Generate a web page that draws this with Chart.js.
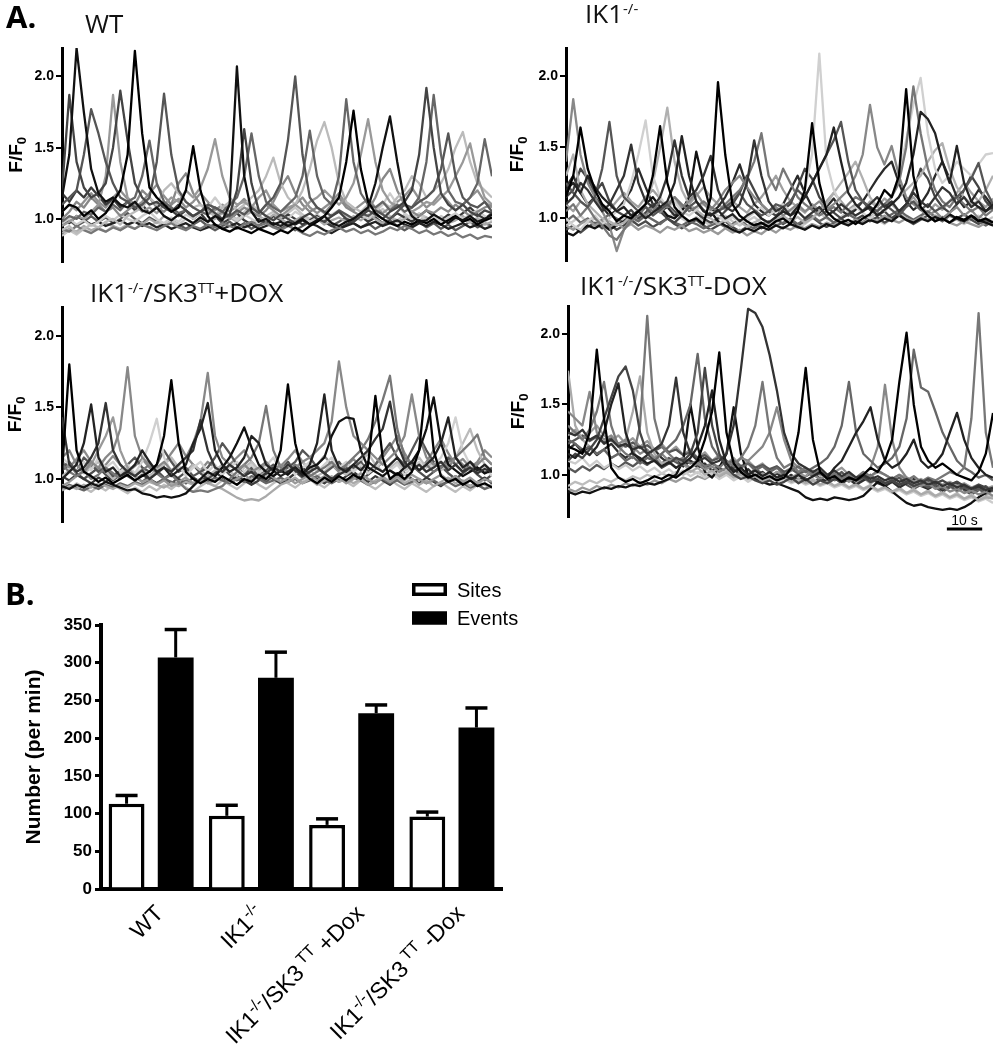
<!DOCTYPE html>
<html><head><meta charset="utf-8">
<script src="https://cdn.jsdelivr.net/npm/chart.js@4.4.1/dist/chart.umd.min.js"></script>
<style>
html,body{margin:0;padding:0;background:#fff;}
#page{position:relative;width:993px;height:1050px;overflow:hidden;background:#fff;}
canvas{position:absolute;}
</style></head><body>
<div id="page">
<canvas id="cTL" style="left:0;top:0" width="496" height="272"></canvas>
<canvas id="cTR" style="left:496px;top:0" width="497" height="272"></canvas>
<canvas id="cBL" style="left:0;top:272px" width="496" height="262"></canvas>
<canvas id="cBR" style="left:496px;top:272px" width="497" height="268"></canvas>
<canvas id="cBar" style="left:0;top:560px" width="560" height="490"></canvas>
</div>
<script>
// ---------- DATA ----------
const samples = [0,1,2,3,4,5,6,7,8,9,10,11,12,13,14,15,16,17,18,19,20,21,22,23,24,25,26,27,28,29,30,31,32,33,34,35,36,37,38,39,40,41,42,43,44,45,46,47,48,49,50,51,52,53,54,55,56,57,58,59];
const fTicks = [1.0, 1.5, 2.0];
const sampleSeconds = 2.04;
const scaleBarSeconds = 10;
const scaleBarEndSample = 57.5;

const panelTitles = ['WT', 'IK1^{-/-}', 'IK1^{-/-}/SK3^{TT}+DOX', 'IK1^{-/-}/SK3^{TT}-DOX'];
const yTitleA = 'F/F_{0}';

// WT traces
const wt01 = [1.15,1.45,2.20,1.75,1.35,1.18,1.12,1.15,1.10,1.08, 1.12,1.06,1.04,1.08,1.02,0.99,1.03,1.00,0.97,1.01, 0.98,1.02,0.99,1.10,2.07,1.30,1.05,0.98,1.00,0.96, 0.98,0.95,0.97,1.00,0.96,0.99,1.02,0.97,0.95,0.98, 1.00,1.04,1.08,1.25,1.50,1.72,1.40,1.12,1.02,0.98, 0.99,1.03,1.00,0.97,1.01,0.99,1.02,0.98,1.00,1.03];
const wt02 = [1.05,1.10,1.08,1.02,1.06,1.00,1.04,1.12,1.20,1.45, 2.18,1.60,1.22,1.15,1.10,1.05,1.08,1.20,1.51,1.20, 1.02,0.96,0.93,0.91,0.94,0.92,0.90,0.93,0.91,0.89, 0.92,0.90,0.94,0.91,0.95,0.98,1.02,1.08,1.15,1.40, 1.76,1.35,1.12,1.04,1.00,0.97,0.95,0.98,0.96,0.99, 0.97,1.00,0.96,0.99,1.02,0.98,1.00,0.96,0.99,1.01];
const wt03 = [1.20,1.87,1.40,1.22,1.15,1.18,1.25,1.50,1.90,1.55, 1.25,1.15,1.10,1.12,1.08,1.05,1.10,1.06,1.02,1.05, 1.08,1.04,1.00,1.03,1.20,1.63,1.25,1.06,1.02,0.99, 1.03,1.00,0.97,1.01,1.04,1.00,0.98,1.02,1.05,1.00, 0.98,1.02,1.06,1.03,1.00,1.05,1.08,1.12,1.20,1.45, 1.92,1.50,1.18,1.10,1.06,1.10,1.05,1.02,1.06,1.04];
const wt04 = [1.10,1.15,1.20,1.45,1.77,1.60,1.40,1.25,1.15,1.12, 1.08,1.10,1.15,1.40,1.88,1.45,1.20,1.12,1.08,1.05, 1.10,1.08,1.05,1.02,1.06,1.03,1.08,1.04,1.10,1.15, 1.25,1.55,2.00,1.45,1.15,1.08,1.05,1.02,1.06,1.03, 1.00,1.04,1.02,1.06,1.03,1.00,1.05,1.10,1.08,1.12, 1.15,1.20,1.35,1.60,1.30,1.15,1.10,1.08,1.12,1.05];
const wt05 = [0.98,1.02,1.00,1.05,1.03,1.08,1.05,1.10,1.06,1.12, 1.15,1.30,1.55,1.25,1.12,1.08,1.04,1.06,1.02,1.05, 1.03,1.08,1.05,1.10,1.15,1.30,1.60,1.30,1.12,1.08, 1.05,1.10,1.15,1.30,1.62,1.30,1.15,1.10,1.30,1.84, 1.40,1.18,1.10,1.08,1.12,1.06,1.10,1.05,1.08,1.15, 1.40,1.87,1.45,1.20,1.12,1.10,1.15,1.25,1.56,1.30];
const wt06 = [0.95,0.98,1.02,1.00,1.05,1.10,1.30,1.87,1.40,1.15, 1.10,1.05,1.08,1.04,1.10,1.15,1.12,1.20,1.15,1.22, 1.35,1.56,1.30,1.15,1.10,1.12,1.08,1.15,1.20,1.10, 1.05,1.08,1.10,1.06,1.12,1.15,1.20,1.15,1.10,1.15, 1.25,1.45,1.70,1.40,1.20,1.12,1.08,1.10,1.05,1.08, 1.12,1.10,1.15,1.20,1.30,1.40,1.53,1.30,1.15,1.10];
const wt07 = [0.92,0.95,0.90,0.93,0.96,0.94,0.98,1.00,0.96,1.02, 1.05,1.08,1.15,1.10,1.20,1.25,1.18,1.12,1.08,1.10, 1.05,1.02,1.08,1.12,1.06,1.10,1.15,1.20,1.30,1.43, 1.25,1.15,1.10,1.20,1.35,1.55,1.68,1.50,1.25,1.12, 1.08,1.05,1.10,1.06,1.12,1.08,1.15,1.20,1.30,1.25, 1.15,1.20,1.25,1.35,1.50,1.61,1.40,1.25,1.20,1.15];
const wt08 = [0.93,0.91,0.95,0.92,0.90,0.93,0.91,0.94,0.92,0.95, 0.93,0.96,0.94,0.92,0.95,0.97,0.94,0.92,0.95,0.93, 0.96,0.94,0.97,0.95,0.93,0.96,0.98,0.95,0.97,0.94, 0.92,0.95,0.93,0.90,0.88,0.91,0.89,0.92,0.94,0.91, 0.93,0.90,0.92,0.89,0.91,0.94,0.92,0.95,0.93,0.90, 0.92,0.89,0.91,0.88,0.90,0.87,0.89,0.86,0.88,0.87];
const wt09 = [1.00,1.05,1.12,1.08,1.15,1.10,1.05,1.08,1.02,1.06, 1.10,1.20,1.15,1.08,1.05,1.10,1.25,1.32,1.18,1.10, 1.06,1.02,1.05,1.00,1.04,1.08,1.05,1.02,1.06,1.12, 1.22,1.30,1.18,1.10,1.05,1.08,1.04,1.10,1.15,1.08, 1.05,1.02,1.06,1.15,1.28,1.35,1.20,1.10,1.05,1.02, 1.06,1.04,1.08,1.05,1.10,1.06,1.02,1.05,1.08,1.10];
const wt10 = [0.97,1.00,0.96,0.99,0.95,0.98,1.02,0.99,1.03,1.00, 0.98,1.02,1.05,1.00,0.97,1.01,0.98,1.03,1.00,1.04, 1.08,1.15,1.08,1.02,0.99,1.03,1.00,0.97,1.02,0.99, 1.03,1.00,1.05,1.02,0.98,1.01,0.99,1.03,1.06,1.02, 0.99,1.03,1.00,1.05,1.10,1.18,1.10,1.04,1.00,1.03, 0.99,1.02,0.98,1.01,1.04,1.00,1.03,1.06,1.02,0.99];
const wt11 = [1.00,0.97,1.02,0.99,0.96,0.98,0.95,0.97,0.99,0.96, 0.98,0.95,0.97,0.94,0.96,0.93,0.95,0.97,0.94,0.92, 0.94,0.96,0.93,0.95,0.97,0.94,0.96,0.93,0.95,0.97, 0.95,0.98,0.96,0.99,0.97,0.95,0.92,0.90,0.93,0.95, 0.97,0.94,0.96,0.98,0.95,0.97,0.99,0.96,0.94,0.97, 0.95,0.98,0.96,0.93,0.95,0.97,0.94,0.96,0.93,0.95];
const wt12 = [0.90,0.93,0.91,0.95,0.92,0.94,0.97,0.95,0.93,0.96, 0.99,0.96,1.00,0.97,1.02,0.99,1.03,1.00,0.97,1.01, 0.98,1.00,1.04,1.01,0.98,1.02,1.05,1.02,0.99,1.03, 1.00,0.97,0.99,1.02,0.98,1.00,0.96,0.99,1.01,0.98, 1.02,0.99,1.03,1.00,0.97,1.01,0.98,1.00,1.03,0.99, 1.01,0.98,1.00,0.97,0.99,1.02,0.98,1.00,0.96,0.98];
const wt13 = [1.18,1.12,1.20,1.15,1.22,1.16,1.10,1.14,1.08,1.12, 1.06,1.10,1.04,1.08,1.12,1.06,1.02,1.06,1.00,1.04, 0.98,1.02,0.97,1.00,1.04,0.99,0.96,1.00,0.97,1.02, 0.99,1.03,1.00,0.96,0.99,1.02,0.98,0.95,0.93,0.96, 0.99,1.02,0.98,1.01,0.97,1.00,1.04,1.01,0.98,1.02, 1.06,1.02,0.99,1.03,1.00,1.04,1.08,1.03,1.00,1.04];
const wt14 = [1.05,1.10,1.06,1.12,1.18,1.12,1.08,1.15,1.20,1.14, 1.08,1.12,1.18,1.24,1.16,1.10,1.14,1.08,1.12,1.18, 1.12,1.06,1.10,1.05,1.09,1.14,1.08,1.04,1.10,1.06, 1.02,1.06,1.10,1.15,1.08,1.04,1.08,1.12,1.18,1.10, 1.06,1.10,1.14,1.08,1.04,1.08,1.12,1.16,1.22,1.14, 1.08,1.12,1.18,1.12,1.06,1.10,1.15,1.20,1.12,1.08];
const wt15 = [0.88,0.92,0.89,0.93,0.90,0.94,0.91,0.95,0.92,0.96, 0.93,0.97,0.94,0.98,0.95,0.99,0.96,1.00,0.97,1.01, 0.98,1.02,0.99,1.03,1.00,1.05,1.10,1.06,1.02,1.05, 1.01,1.04,1.08,1.03,1.00,1.03,0.99,1.02,1.06,1.01, 0.98,1.02,0.99,1.03,1.07,1.02,0.99,1.03,1.00,1.04, 1.01,0.98,1.02,0.99,1.03,1.00,0.97,1.01,0.98,1.02];
const wt16 = [0.96,0.99,0.95,0.98,1.02,0.98,1.01,0.97,1.00,1.04, 1.00,0.97,1.01,0.98,0.95,0.99,0.96,0.93,0.96,0.99, 0.95,0.92,0.95,0.98,0.94,0.97,0.93,0.96,0.99,0.95, 0.93,0.96,0.92,0.95,0.98,1.02,0.98,0.95,0.98,1.01, 0.97,0.94,0.97,0.93,0.96,0.99,0.95,0.92,0.95,0.98, 0.94,0.97,0.93,0.96,0.92,0.95,0.98,0.94,0.97,0.95];

// IK1-/- traces
const ik01 = [1.15,1.30,1.64,1.35,1.20,1.10,1.05,0.98,1.02,1.00, 1.05,1.10,1.30,1.65,1.25,1.08,1.02,0.98,1.00,0.96, 1.15,1.96,1.45,1.10,1.02,0.98,0.95,0.97,0.94,0.98, 1.00,0.96,1.05,1.20,1.67,1.25,1.05,1.00,0.97,0.99, 0.96,1.00,1.03,1.10,1.20,1.15,1.30,1.91,1.30,1.08, 1.02,0.98,1.00,0.97,1.01,0.99,1.02,0.98,1.00,0.97];
const ik02 = [1.20,1.25,1.18,1.30,1.22,1.15,1.10,1.05,1.08,1.02, 1.05,1.00,1.04,1.08,1.12,1.25,1.58,1.30,1.12,1.05, 1.02,1.06,1.00,1.03,0.98,1.02,1.05,1.00,0.97,1.01, 1.05,1.02,1.08,1.15,1.25,1.35,1.45,1.64,1.40,1.18, 1.10,1.05,1.08,1.02,1.06,1.10,1.15,1.25,1.45,1.75, 1.70,1.60,1.40,1.25,1.51,1.25,1.12,1.08,1.05,1.10];
const ik03 = [1.10,1.15,1.25,1.20,1.12,1.05,1.10,1.20,1.30,1.52, 1.25,1.12,1.08,1.15,1.30,1.55,1.30,1.15,1.20,1.30, 1.44,1.20,1.08,1.05,1.10,1.25,1.55,1.30,1.12,1.05, 1.08,1.02,1.05,1.00,1.04,1.08,1.02,1.05,1.10,1.06, 1.02,1.05,1.10,1.15,1.08,1.12,1.05,1.10,1.18,1.12, 1.08,1.15,1.22,1.18,1.10,1.15,1.08,1.12,1.05,1.08];
const ik04 = [1.25,1.18,1.12,1.08,1.15,1.35,1.68,1.30,1.15,1.10, 1.05,1.08,1.02,1.06,1.10,1.05,1.02,1.08,1.12,1.06, 1.02,1.05,1.08,1.12,1.18,1.10,1.06,1.02,1.05,1.10, 1.08,1.12,1.20,1.15,1.25,1.35,1.45,1.55,1.68,1.40, 1.20,1.12,1.08,1.05,1.10,1.06,1.02,1.08,1.12,1.06, 1.10,1.05,1.08,1.12,1.15,1.20,1.28,1.39,1.20,1.10];
const ik05 = [1.05,1.10,1.02,1.08,1.00,0.95,0.88,0.85,0.92,0.98, 1.02,1.08,1.05,1.12,1.08,1.15,1.10,1.05,1.08,1.12, 1.08,1.05,1.10,1.15,1.20,1.28,1.40,1.60,1.30,1.20, 1.35,1.25,1.15,1.10,1.06,1.02,1.05,1.08,1.04,1.10, 1.15,1.12,1.08,1.05,1.10,1.15,1.25,1.50,1.93,1.60, 1.35,1.20,1.12,1.08,1.15,1.10,1.05,1.08,1.02,1.06];
const ik06 = [1.40,1.84,1.45,1.25,1.15,1.05,0.95,0.77,0.92,1.00, 1.05,1.02,1.08,1.04,1.10,1.15,1.08,1.12,1.18,1.10, 1.06,1.12,1.20,1.25,1.30,1.22,1.15,1.10,1.05,1.08, 1.02,1.06,1.10,1.05,1.08,1.12,1.06,1.10,1.15,1.20, 1.30,1.45,1.80,1.50,1.38,1.51,1.30,1.15,1.10,1.06, 1.02,1.05,1.00,1.04,1.08,1.02,1.06,1.00,1.05,1.10];
const ik07 = [1.00,0.95,0.92,0.98,1.02,0.96,1.00,1.05,1.10,1.25, 1.45,1.69,1.30,1.15,1.08,1.12,1.05,1.02,1.06,1.10, 1.05,1.02,0.98,1.01,0.97,1.00,1.04,1.08,1.02,1.06, 1.10,1.05,1.08,1.20,1.45,2.16,1.40,1.20,1.10,1.05, 1.08,1.04,1.00,1.05,1.10,1.15,1.30,1.55,1.80,1.99, 1.60,1.35,1.25,1.30,1.40,1.35,1.30,1.38,1.45,1.46];
const ik08 = [1.30,1.45,1.20,1.10,1.05,1.00,0.98,0.95,0.97,1.02, 1.05,1.10,1.25,1.50,1.78,1.40,1.20,1.10,1.06,1.02, 1.00,0.96,0.99,0.95,0.98,0.94,0.97,1.00,0.96,0.99, 1.02,0.98,1.01,0.97,1.00,1.05,1.10,1.18,1.25,1.32, 1.40,1.28,1.15,1.08,1.05,1.10,1.15,1.20,1.25,1.30, 1.40,1.48,1.53,1.35,1.22,1.15,1.10,1.12,1.20,1.30];
const ik09 = [0.90,0.88,0.92,0.95,0.93,0.96,0.92,0.95,0.98,1.02, 1.05,1.10,1.15,1.08,1.02,1.00,1.05,1.15,1.47,1.25, 1.05,0.98,0.95,0.92,0.90,0.93,0.91,0.94,0.92,0.95, 0.93,0.96,0.94,0.92,0.95,0.93,0.96,0.94,0.97,0.95, 0.98,0.96,0.99,0.97,1.00,0.98,1.02,0.99,0.97,1.00, 0.98,1.01,0.99,1.03,1.00,0.98,1.02,0.99,0.97,0.95];
const ik10 = [0.95,0.92,0.96,0.99,0.95,0.98,0.94,0.97,0.93,0.96, 0.92,0.95,0.93,0.90,0.94,0.92,0.95,0.91,0.93,0.90, 0.92,0.89,0.93,0.90,0.92,0.88,0.91,0.89,0.93,0.90, 0.94,0.92,0.95,0.93,0.96,0.94,0.97,0.95,0.98,0.96, 0.99,0.97,1.00,0.98,1.02,0.99,0.97,1.00,0.98,1.01, 0.99,1.02,1.00,0.97,0.95,0.98,0.96,0.94,0.97,0.95];
const ik11 = [1.15,1.20,1.35,1.28,1.18,1.25,1.12,1.05,1.02,1.06, 1.00,1.04,1.10,1.05,1.00,0.97,1.02,1.08,1.04,1.00, 0.97,1.00,1.05,1.10,1.18,1.30,1.20,1.10,1.05,1.02, 1.06,1.10,1.22,1.35,1.28,1.15,1.08,1.04,1.00,1.03, 1.08,1.12,1.06,1.02,1.05,1.00,1.04,1.10,1.20,1.35, 1.28,1.15,1.08,1.04,1.10,1.20,1.30,1.22,1.12,1.06];
const ik12 = [0.98,1.02,0.97,1.00,0.96,0.99,1.03,1.00,0.97,1.01, 0.98,1.02,0.99,0.96,1.00,0.97,0.95,0.98,0.96,0.93, 0.95,0.97,0.94,0.96,0.99,0.95,0.93,0.96,0.98,0.95, 0.97,1.00,0.96,0.99,1.02,0.98,1.01,0.97,1.00,1.03, 1.00,0.97,1.01,1.04,1.00,1.03,1.06,1.02,0.99,1.02, 1.05,1.01,0.98,1.02,1.00,0.97,1.01,0.98,0.95,0.98];
const ik13 = [1.22,1.30,1.18,1.10,1.15,1.08,1.02,1.06,1.12,1.20, 1.35,1.22,1.10,1.05,1.08,1.02,1.06,1.10,1.04,1.00, 1.04,1.08,1.15,1.25,1.38,1.22,1.10,1.05,1.02,1.06, 1.10,1.20,1.30,1.18,1.08,1.04,1.08,1.14,1.06,1.02, 1.06,1.12,1.20,1.28,1.35,1.40,1.25,1.12,1.06,1.10, 1.18,1.30,1.40,1.28,1.15,1.08,1.12,1.20,1.15,1.08];
const ik14 = [1.10,1.05,1.12,1.08,1.15,1.10,1.06,1.12,1.18,1.12, 1.08,1.15,1.20,1.14,1.08,1.12,1.06,1.10,1.16,1.22, 1.15,1.10,1.06,1.12,1.08,1.04,1.10,1.15,1.22,1.30, 1.20,1.12,1.08,1.04,1.10,1.06,1.12,1.18,1.12,1.06, 1.10,1.05,1.12,1.08,1.14,1.10,1.05,1.10,1.15,1.08, 1.04,1.10,1.06,1.12,1.18,1.25,1.18,1.12,1.08,1.14];
const ik15 = [0.92,0.95,0.90,0.94,0.97,0.93,0.96,0.92,0.95,0.99, 0.95,0.98,0.94,0.97,1.00,0.96,0.93,0.96,0.99,0.95, 0.92,0.95,0.98,0.94,0.91,0.94,0.97,0.93,0.96,1.00, 0.96,0.99,0.95,0.98,1.01,0.97,0.94,0.97,1.00,0.96, 0.99,1.02,0.98,1.01,0.97,1.00,1.03,0.99,0.96,0.99, 1.02,0.98,1.01,0.97,1.00,1.03,0.99,0.96,0.99,0.95];
const ik16 = [0.95,0.98,1.02,0.97,1.00,0.96,0.93,0.97,1.00,0.96, 0.99,1.03,0.99,0.96,1.00,1.04,1.00,0.97,1.01,0.98, 0.95,0.99,1.02,0.98,0.95,0.98,1.01,0.97,0.94,0.97, 1.00,0.96,0.93,0.96,1.00,1.04,1.00,0.97,1.01,1.05, 1.01,0.98,1.02,0.99,0.96,1.00,1.04,1.00,0.97,1.01, 1.05,1.01,0.98,1.02,0.99,0.96,0.99,1.02,0.98,1.01];

// IK1-/-/SK3TT +DOX traces
const pd01 = [1.05,1.80,1.20,1.05,1.02,0.98,1.01,0.97,1.00,1.03, 0.99,1.02,1.05,1.10,1.30,1.69,1.25,1.05,1.00,0.97, 1.00,0.98,1.02,0.99,0.96,1.00,0.98,1.03,1.00,1.05, 1.20,1.66,1.25,1.05,1.00,0.97,1.01,0.98,1.02,0.99, 1.03,1.00,1.10,1.58,1.15,1.00,1.04,1.00,1.05,1.20, 1.69,1.20,1.02,0.98,1.00,0.96,0.99,0.95,0.97,0.94];
const pd02 = [1.00,1.05,1.10,1.25,1.52,1.15,1.05,1.08,1.02,1.05, 1.10,1.20,1.12,1.05,1.08,1.02,1.06,1.10,1.25,1.35, 1.53,1.20,1.10,1.05,1.08,1.15,1.30,1.25,1.10,1.06, 1.02,1.05,1.08,1.03,1.10,1.25,1.59,1.20,1.08,1.05, 1.10,1.06,1.12,1.08,1.05,1.10,1.15,1.08,1.12,1.06, 1.10,1.15,1.25,1.43,1.15,1.08,1.12,1.06,1.10,1.05];
const pd03 = [1.43,1.10,1.05,1.08,1.15,1.25,1.53,1.20,1.10,1.05, 1.02,1.06,1.00,1.04,1.08,1.05,1.10,1.15,1.20,1.41, 1.20,1.08,1.05,1.10,1.06,1.02,1.05,1.00,1.04,1.08, 1.05,1.10,1.06,1.02,1.05,1.08,1.04,1.00,1.03,1.06, 1.10,1.15,1.20,1.28,1.35,1.54,1.25,1.12,1.06,1.10, 1.05,1.08,1.12,1.06,1.10,1.05,1.08,1.04,1.07,1.05];
const pd04 = [0.95,0.93,0.96,0.94,0.97,0.95,0.98,0.96,0.94,0.92, 0.93,0.90,0.89,0.87,0.88,0.87,0.88,0.90,0.95,1.00, 1.05,1.02,1.08,1.15,1.25,1.36,1.22,1.10,1.05,1.02, 1.06,1.03,1.08,1.04,1.08,1.10,1.15,1.30,1.40,1.43, 1.42,1.20,1.08,1.05,1.02,1.06,1.03,1.08,1.12,1.20, 1.35,1.57,1.25,1.10,1.06,1.02,1.05,1.08,1.04,1.06];
const pd05 = [1.15,1.20,1.10,1.05,1.12,1.08,1.15,1.20,1.35,1.78, 1.30,1.15,1.10,1.08,1.12,1.06,1.10,1.15,1.25,1.40, 1.74,1.30,1.15,1.10,1.06,1.10,1.05,1.08,1.12,1.06, 1.10,1.05,1.08,1.12,1.15,1.20,1.25,1.40,1.82,1.50, 1.30,1.25,1.20,1.15,1.10,1.15,1.20,1.30,1.59,1.30, 1.15,1.10,1.12,1.08,1.15,1.10,1.06,1.10,1.15,1.10];
const pd06 = [1.10,1.05,1.02,1.06,1.00,1.03,1.08,1.04,1.00,1.05, 1.02,1.06,1.10,1.04,1.00,1.03,0.98,0.93,0.91,0.92, 0.91,0.93,0.95,1.00,1.05,1.10,1.15,1.25,1.51,1.20, 1.08,1.05,1.10,1.06,1.02,1.05,1.08,1.12,1.06,1.10, 1.15,1.20,1.28,1.40,1.55,1.72,1.35,1.15,1.10,1.06, 1.10,1.05,1.08,1.12,1.15,1.20,1.25,1.31,1.15,1.10];
const pd07 = [0.95,0.98,1.02,1.05,1.10,1.20,1.30,1.43,1.20,1.08, 1.02,0.98,1.00,0.96,0.99,0.95,0.98,1.01,0.97,1.00, 0.97,0.99,1.02,0.98,1.00,1.03,0.99,1.02,1.05,1.01, 0.98,1.01,0.97,1.00,1.03,0.99,1.02,0.98,1.01,0.97, 1.00,1.04,1.00,0.97,1.01,0.98,1.02,0.99,1.03,1.00, 0.97,1.00,1.03,0.99,1.02,0.98,1.01,0.97,1.00,0.98];
const pd08 = [1.15,1.10,1.05,1.12,1.06,1.15,1.08,1.12,1.05,1.10, 1.04,1.12,1.25,1.42,1.15,1.05,1.10,1.02,1.08,1.12, 1.05,1.10,1.03,1.08,1.12,1.05,1.10,1.04,1.09,1.15, 1.06,1.10,1.03,1.08,1.12,1.05,1.10,1.15,1.08,1.12, 1.05,1.10,1.04,1.08,1.12,1.06,1.10,1.03,1.08,1.12, 1.05,1.10,1.15,1.25,1.43,1.20,1.10,1.05,1.08,1.02];
const pd09 = [0.92,0.95,0.93,0.96,0.94,0.97,0.95,0.93,0.96,0.94, 0.97,0.95,0.98,0.96,0.94,0.97,0.95,0.98,0.96,0.99, 0.97,0.95,0.93,0.90,0.87,0.85,0.86,0.85,0.88,0.92, 0.96,0.98,1.01,0.97,1.00,0.96,0.99,1.02,0.98,1.00, 0.97,1.00,0.96,0.99,1.02,0.98,1.01,0.97,1.00,0.96, 0.99,0.95,0.98,1.01,0.97,0.99,0.95,0.98,0.96,0.94];
const pd10 = [1.08,1.12,1.05,1.15,1.10,1.05,1.08,1.02,1.06,1.10, 1.15,1.08,1.05,1.10,1.20,1.12,1.05,1.08,1.02,1.05, 1.08,1.15,1.25,1.18,1.10,1.05,1.08,1.02,1.06,1.10, 1.05,1.08,1.12,1.20,1.15,1.08,1.04,1.08,1.12,1.05, 1.08,1.12,1.05,1.10,1.18,1.25,1.15,1.10,1.20,1.30, 1.20,1.12,1.08,1.15,1.10,1.05,1.12,1.08,1.04,1.08];
const pd11 = [0.93,0.96,0.94,0.92,0.95,0.93,0.96,0.94,0.97,0.95, 0.98,0.96,0.99,0.97,1.00,0.98,0.96,0.99,0.97,1.00, 0.98,1.01,0.99,0.97,1.00,0.98,1.02,1.00,0.97,0.99, 1.01,0.98,1.00,0.97,0.99,1.02,0.99,0.97,1.00,0.98, 1.01,0.99,0.96,0.98,1.00,0.97,0.99,0.96,0.98,1.00, 0.97,0.99,0.96,0.98,0.95,0.97,0.94,0.96,0.93,0.95];
const pd12 = [1.02,1.06,1.10,1.04,1.08,1.12,1.05,1.00,1.04,1.08, 1.03,1.07,1.02,1.06,1.10,1.15,1.08,1.04,1.10,1.06, 1.02,1.06,1.10,1.05,1.02,1.08,1.12,1.06,1.02,1.05, 1.09,1.04,1.08,1.12,1.06,1.02,1.05,1.10,1.06,1.03, 1.07,1.12,1.18,1.10,1.05,1.08,1.12,1.06,1.10,1.15, 1.08,1.12,1.06,1.10,1.15,1.25,1.35,1.20,1.10,1.06];
const pd13 = [1.02,0.99,1.03,1.00,0.97,1.01,0.98,1.02,1.06,1.02, 0.99,1.03,1.00,0.97,1.00,1.04,1.00,0.97,1.01,0.98, 1.02,1.05,1.01,0.98,1.02,0.99,0.96,0.99,1.03,1.00, 0.97,1.00,1.04,1.08,1.03,1.00,0.97,1.01,0.98,1.02, 1.05,1.01,0.98,1.02,0.99,0.96,1.00,1.04,1.00,0.97, 1.01,0.98,0.95,0.99,1.02,0.98,0.95,0.98,1.01,0.97];
const pd14 = [1.12,1.08,1.14,1.20,1.12,1.06,1.10,1.16,1.10,1.05, 1.09,1.14,1.08,1.04,1.10,1.18,1.25,1.16,1.10,1.06, 1.12,1.08,1.04,1.10,1.15,1.20,1.12,1.06,1.10,1.05, 1.09,1.14,1.20,1.12,1.06,1.10,1.16,1.10,1.05,1.09, 1.14,1.08,1.04,1.10,1.15,1.22,1.30,1.18,1.10,1.06, 1.12,1.20,1.28,1.18,1.10,1.14,1.08,1.12,1.20,1.15];
const pd15 = [0.96,0.93,0.97,0.94,0.91,0.95,0.92,0.96,0.93,0.90, 0.94,0.91,0.95,0.92,0.96,0.93,0.97,0.94,0.91,0.95, 0.98,0.95,0.99,0.96,0.93,0.97,1.00,0.96,0.93,0.97, 1.00,0.97,0.94,0.98,1.01,0.97,0.94,0.98,1.02,0.98, 0.95,0.99,0.96,0.93,0.97,1.00,0.96,0.93,0.97,0.94, 0.91,0.95,0.98,0.94,0.91,0.95,0.92,0.96,0.93,0.97];
const pd16 = [1.06,1.10,1.04,1.00,1.04,1.08,1.03,0.99,1.03,1.07, 1.02,0.98,1.02,1.06,1.01,0.97,1.01,1.05,1.10,1.04, 1.00,1.04,1.08,1.03,0.99,1.03,1.07,1.02,0.98,1.02, 1.06,1.12,1.05,1.01,1.05,1.09,1.04,1.00,1.04,1.08, 1.03,0.99,1.03,1.07,1.12,1.06,1.02,1.06,1.10,1.05, 1.01,1.05,1.09,1.04,1.00,1.04,1.08,1.03,0.99,1.03];

// IK1-/-/SK3TT -DOX traces
const md01 = [1.20,1.18,1.15,1.30,1.89,1.40,1.05,0.98,0.95,0.97, 0.94,0.96,0.99,0.97,1.00,0.98,1.02,1.05,1.10,1.25, 1.45,1.87,1.30,1.08,1.02,0.98,1.00,0.97,0.99,0.96, 0.98,1.05,1.30,1.76,1.25,1.02,0.97,0.99,0.95,0.98, 0.96,1.00,1.05,1.02,1.10,1.25,1.66,2.01,1.50,1.20, 1.10,1.05,1.08,1.04,1.00,0.98,0.96,1.02,1.15,1.44];
const md02 = [1.15,1.12,1.18,1.14,1.20,1.30,1.50,1.65,1.30,1.15, 1.12,1.08,1.10,1.06,1.09,1.05,1.08,1.12,1.20,1.35, 1.60,1.25,1.08,1.02,1.05,1.00,1.03,0.99,1.02,0.98, 1.00,0.97,1.00,0.96,0.99,1.02,0.98,1.05,1.10,1.20, 1.30,1.38,1.48,1.25,1.10,1.05,1.08,1.15,1.25,1.10, 1.05,1.08,1.15,1.30,1.44,1.25,1.12,1.05,1.00,0.98];
const md03 = [1.30,1.28,1.32,1.25,1.28,1.22,1.25,1.20,1.22,1.18, 1.20,1.15,1.18,1.22,1.35,1.69,1.30,1.15,1.10,1.12, 1.08,1.10,1.15,1.35,1.75,2.18,2.15,2.05,1.85,1.60, 1.30,1.15,1.08,1.05,1.02,1.05,1.00,1.03,0.99,1.02, 0.98,1.00,0.97,0.99,0.96,0.98,0.95,0.97,0.94,0.96, 0.93,0.95,0.92,0.94,0.91,0.93,0.90,0.92,0.89,0.91];
const md04 = [1.10,1.15,1.12,1.18,1.25,1.40,1.55,1.70,1.77,1.60, 1.30,1.15,1.10,1.05,1.08,1.12,1.10,1.15,1.30,1.76, 1.35,1.15,1.05,1.00,0.97,0.99,0.96,0.94,0.96,0.93, 0.95,0.98,0.94,0.97,0.93,0.96,0.94,0.97,0.95,0.98, 0.96,0.99,0.95,0.97,0.94,0.96,0.93,0.95,0.92,0.94, 0.97,0.94,0.96,0.93,0.95,0.92,0.90,0.93,0.91,0.89];
const md05 = [1.35,1.30,1.25,1.32,1.45,1.66,1.35,1.20,1.15,1.12, 1.35,2.13,1.40,1.20,1.15,1.10,1.12,1.08,1.10,1.06, 1.08,1.05,1.10,1.06,1.12,1.20,1.35,1.66,1.30,1.12, 1.05,1.08,1.02,1.05,1.00,1.03,0.99,1.01,0.97,1.00, 0.98,1.02,0.99,1.03,1.00,0.97,1.00,0.96,0.99,0.95, 0.98,0.96,0.99,1.02,1.00,1.05,1.40,2.15,1.30,1.05];
const md06 = [1.25,1.22,1.18,1.20,1.15,1.18,1.12,1.15,1.10,1.13, 1.08,1.12,1.10,1.15,1.20,1.25,1.35,1.50,1.86,1.40, 1.20,1.12,1.08,1.10,1.05,1.08,1.03,1.06,1.02,1.05, 1.00,1.03,1.06,1.02,1.05,1.08,1.12,1.20,1.35,1.66, 1.30,1.15,1.10,1.05,1.08,1.12,1.20,1.40,1.89,1.62, 1.59,1.45,1.30,1.20,1.10,1.05,1.02,0.98,1.00,0.96];
const md07 = [1.45,1.40,1.35,1.59,1.30,1.25,1.28,1.22,1.25,1.20, 1.15,1.18,1.12,1.15,1.10,1.12,1.08,1.05,1.08,1.04, 1.06,1.02,1.05,1.08,1.12,1.10,1.15,1.20,1.30,1.48, 1.25,1.10,1.05,1.02,1.00,0.97,1.00,0.96,0.99,0.95, 0.98,1.00,1.05,1.20,1.64,1.25,1.05,0.98,0.95,0.92, 0.94,0.90,0.92,0.88,0.90,0.87,0.89,0.86,0.88,0.85];
const md08 = [1.74,1.35,1.25,1.20,1.15,1.18,1.12,1.15,1.25,1.45, 1.70,1.30,1.15,1.08,1.10,1.05,1.08,1.02,1.05,1.00, 1.03,0.99,1.02,0.98,1.00,0.97,0.99,0.95,0.98,0.96, 0.98,0.95,0.97,0.94,0.96,0.93,0.95,0.92,0.94,0.91, 0.93,0.90,0.92,0.89,0.91,0.88,0.90,0.87,0.89,0.86, 0.88,0.85,0.87,0.84,0.86,0.83,0.85,0.82,0.84,0.83];
const md09 = [0.88,0.86,0.88,0.87,0.89,0.91,0.90,0.92,0.91,0.93, 0.92,0.94,0.93,0.95,0.97,1.00,1.10,1.50,1.20,1.02, 0.98,1.05,1.15,1.48,1.15,1.00,0.97,0.95,0.93,0.94, 0.92,0.90,0.88,0.84,0.82,0.83,0.82,0.84,0.83,0.82, 0.83,0.85,0.90,0.95,0.92,0.88,0.84,0.80,0.78,0.79, 0.77,0.76,0.75,0.76,0.75,0.77,0.80,0.84,0.87,0.90];
const md10 = [1.22,1.25,1.28,1.24,1.27,1.23,1.26,1.22,1.20,1.23, 1.19,1.21,1.17,1.20,1.16,1.18,1.14,1.16,1.12,1.14, 1.10,1.12,1.08,1.10,1.06,1.08,1.05,1.07,1.04,1.06, 1.02,1.04,1.01,1.03,0.99,1.01,0.98,1.00,0.97,0.99, 0.96,0.98,0.95,0.97,0.94,0.96,0.93,0.95,0.92,0.94, 0.91,0.93,0.90,0.92,0.89,0.91,0.88,0.90,0.87,0.89];
const md11 = [1.10,1.08,1.12,1.06,1.10,1.05,1.08,1.04,1.07,1.03, 1.06,1.02,1.05,1.01,1.04,1.00,1.03,0.99,1.02,0.98, 1.01,0.97,1.00,0.96,0.99,0.95,0.98,0.96,0.99,0.95, 0.97,0.94,0.96,0.93,0.95,0.92,0.94,0.91,0.93,0.90, 0.92,0.89,0.91,0.88,0.90,0.87,0.89,0.86,0.88,0.85, 0.87,0.84,0.86,0.83,0.85,0.82,0.84,0.81,0.83,0.80];
const md12 = [0.90,0.88,0.91,0.89,0.92,0.90,0.93,0.91,0.94,0.92, 0.95,0.93,0.96,0.94,0.97,0.95,0.98,0.96,0.99,0.97, 1.00,0.98,1.01,0.99,1.02,1.00,0.98,1.01,0.99,1.02, 1.00,0.98,1.01,0.99,1.03,1.00,0.98,1.02,1.05,1.00, 0.98,1.01,0.99,1.02,1.00,0.97,1.00,0.98,0.95,0.97, 0.94,0.96,0.93,0.95,0.92,0.94,0.91,0.93,0.90,0.92];
const md13 = [1.18,1.22,1.16,1.20,1.14,1.18,1.22,1.16,1.12,1.16, 1.10,1.14,1.18,1.12,1.08,1.12,1.06,1.10,1.05,1.08, 1.03,1.06,1.10,1.04,1.00,1.04,0.99,1.02,0.98,1.01, 0.97,1.00,0.96,0.99,1.02,0.97,0.95,0.98,0.94,0.97, 0.93,0.96,0.99,0.94,0.92,0.95,0.91,0.94,0.97,0.92, 0.90,0.93,0.89,0.92,0.95,0.90,0.88,0.91,0.87,0.90];
const md14 = [1.28,1.32,1.26,1.30,1.35,1.28,1.24,1.28,1.22,1.26, 1.20,1.24,1.18,1.22,1.16,1.20,1.14,1.18,1.12,1.16, 1.10,1.14,1.08,1.12,1.06,1.10,1.05,1.08,1.03,1.06, 1.02,1.05,1.00,1.03,0.99,1.02,0.97,1.00,0.96,0.99, 0.95,0.98,0.94,0.97,0.93,0.96,0.92,0.95,0.91,0.94, 0.90,0.93,0.89,0.92,0.88,0.91,0.87,0.90,0.86,0.89];
const md15 = [0.92,0.95,0.93,0.96,0.94,0.97,0.95,0.98,0.96,0.99, 0.97,1.00,0.98,1.01,0.99,1.02,1.00,1.03,1.01,1.04, 1.02,1.00,1.03,0.99,1.02,0.98,1.01,0.97,1.00,0.96, 0.99,0.95,0.98,0.94,0.97,0.93,0.96,0.92,0.95,0.91, 0.94,0.90,0.93,0.89,0.92,0.88,0.91,0.87,0.90,0.86, 0.89,0.85,0.88,0.84,0.87,0.83,0.86,0.82,0.85,0.84];
const md16 = [1.05,1.02,1.06,1.03,1.07,1.04,1.08,1.05,1.09,1.06, 1.10,1.07,1.11,1.08,1.12,1.09,1.06,1.10,1.07,1.04, 1.08,1.05,1.02,1.06,1.03,1.00,1.04,1.01,0.98,1.02, 0.99,0.96,1.00,0.97,0.94,0.98,0.95,0.98,1.02,0.97, 0.94,0.97,1.00,0.95,0.92,0.95,0.98,0.93,0.90,0.93, 0.96,0.91,0.88,0.91,0.94,0.89,0.86,0.89,0.92,0.88];

// Bar chart (panel B)
const categories = ['WT', 'IK1^{-/-}', 'IK1^{-/-}/SK3^{ TT} +Dox', 'IK1^{-/-}/SK3^{ TT} -Dox'];
const sitesMean  = [113, 97, 85, 96];
const sitesSem   = [11, 14, 8, 6];
const eventsMean = [307, 280, 233, 214];
const eventsSem  = [37, 34, 11, 26];
const barTicks = [0, 50, 100, 150, 200, 250, 300, 350];
const seriesNames = ['Sites', 'Events'];

// ---------- STYLE ----------
const FONT_A = '"Liberation Sans", Arial, sans-serif';
const FONT_T = '"Open Sans", sans-serif';
Chart.defaults.font.family = FONT_A;

function parseRich(s){
  const out=[]; const re=/([\^_])\{([^}]*)\}/g; let last=0, m;
  while((m=re.exec(s))!==null){
    if(m.index>last) out.push({t:s.slice(last,m.index),k:''});
    out.push({t:m[2],k:m[1]}); last=re.lastIndex;
  }
  if(last<s.length) out.push({t:s.slice(last),k:''});
  return out;
}
function drawRich(ctx,text,x,y,o){
  const segs=parseRich(text);
  const f=sg=>`${o.weight||'normal'} ${sg.k?o.small:o.size}px ${o.family}`;
  let total=0;
  const ws=segs.map(sg=>{ctx.font=f(sg); const w=ctx.measureText(sg.t).width; total+=w; return w;});
  let cx = o.align==='right' ? x-total : (o.align==='center' ? x-total/2 : x);
  ctx.fillStyle=o.color||'#000'; ctx.textBaseline='alphabetic'; ctx.textAlign='left';
  segs.forEach((sg,i)=>{
    ctx.font=f(sg);
    const dy = sg.k==='^' ? -o.size*(o.rise||0.36) : (sg.k==='_' ? o.size*0.22 : 0);
    ctx.fillText(sg.t,cx,y+dy); cx+=ws[i];
  });
}

function panelDecor(cfg){
  return {id:'panelDecor', afterDraw(chart){
    const ctx=chart.ctx, a=chart.chartArea;
    ctx.save();
    ctx.translate(a.left - cfg.yTitleOffset, (a.top+a.bottom)/2);
    ctx.rotate(-Math.PI/2);
    drawRich(ctx, yTitleA, 0, 0, {size:19, small:13, family:FONT_A, weight:'bold', align:'center'});
    ctx.restore();
    ctx.save();
    drawRich(ctx, cfg.title, cfg.titleX, cfg.titleY, {size:26, small:15, family:FONT_T, weight:'normal', color:'#111'});
    if(cfg.letter) drawRich(ctx, cfg.letter, cfg.letterX, cfg.letterY, {size:31, small:20, family:FONT_T, weight:'bold'});
    if(cfg.scaleBar){
      const xs=chart.scales.x;
      const x2=xs.getPixelForValue(scaleBarEndSample);
      const x1=xs.getPixelForValue(scaleBarEndSample - scaleBarSeconds/sampleSeconds);
      ctx.strokeStyle='#000'; ctx.lineWidth=3; ctx.beginPath();
      ctx.moveTo(x1,a.bottom+12); ctx.lineTo(x2,a.bottom+12); ctx.stroke();
      drawRich(ctx, scaleBarSeconds+' s', (x1+x2)/2, a.bottom+8, {size:14, small:10, family:FONT_A, weight:'normal', align:'center'});
    }
    ctx.restore();
  }};
}

function makePanel(id, series, colors, cfg){
  return new Chart(document.getElementById(id), {
    type:'line',
    data:{labels:samples, datasets: series.map((d,i)=>({data:d, borderColor:colors[i], borderWidth:2.3, pointRadius:0, tension:0, fill:false, borderJoinStyle:'round'}))},
    options:{
      responsive:false, animation:false, events:[],
      layout:{padding:cfg.padding},
      plugins:{legend:{display:false}, tooltip:{enabled:false}},
      scales:{
        x:{type:'linear', min:0, max:59, display:false},
        y:{min:0.7, max:2.2,
           afterFit(s){ s.width = cfg.axisW; },
           afterBuildTicks(s){ s.ticks = fTicks.map(v=>({value:v})); },
           border:{display:true, color:'#000', width:3},
           grid:{display:true, drawOnChartArea:false, drawTicks:true, tickLength:6, color:'#000', lineWidth:2},
           ticks:{color:'#000', font:{family:FONT_A, size:14, weight:'bold'}, padding:2, callback:v=>Number(v).toFixed(1)}
        }
      }
    },
    plugins:[panelDecor(cfg)]
  });
}

makePanel('cTL', [wt01,wt02,wt03,wt04,wt05,wt06,wt07,wt08,wt09,wt10,wt11,wt12,wt13,wt14,wt15,wt16],
  ['#111','#000','#444','#555','#666','#999','#bbb','#777','#888','#ccc','#222','#aaa','#3a3a3a','#909090','#c4c4c4','#5a5a5a'],
  {padding:{top:48,bottom:9,left:0,right:4}, axisW:62, yTitleOffset:40, title:panelTitles[0], titleX:85, titleY:33, letter:'A.', letterX:6, letterY:28});
makePanel('cTR', [ik01,ik02,ik03,ik04,ik05,ik06,ik07,ik08,ik09,ik10,ik11,ik12,ik13,ik14,ik15,ik16],
  ['#000','#222','#333','#555','#777','#888','#d0d0d0','#b0b0b0','#111','#999','#444','#666','#2a2a2a','#a0a0a0','#4a4a4a','#c8c8c8'],
  {padding:{top:48,bottom:11,left:0,right:0}, axisW:70, yTitleOffset:43, title:panelTitles[1], titleX:89, titleY:23});
makePanel('cBL', [pd01,pd02,pd03,pd04,pd05,pd06,pd07,pd08,pd09,pd10,pd11,pd12,pd13,pd14,pd15,pd16],
  ['#000','#222','#333','#111','#888','#777','#999','#d0d0d0','#aaa','#555','#666','#bbb','#3a3a3a','#8a8a8a','#bdbdbd','#4f4f4f'],
  {padding:{top:35,bottom:12,left:0,right:4}, axisW:62, yTitleOffset:41, title:panelTitles[2], titleX:90, titleY:30});
makePanel('cBR', [md01,md02,md03,md04,md05,md06,md07,md08,md09,md10,md11,md12,md13,md14,md15,md16],
  ['#000','#222','#333','#444','#777','#666','#888','#aaa','#111','#555','#ccc','#999','#2f2f2f','#9a9a9a','#bdbdbd','#575757'],
  {padding:{top:34,bottom:23,left:0,right:0}, axisW:72, yTitleOffset:44, title:panelTitles[3], titleX:84, titleY:23, scaleBar:true});

// ---------- BAR CHART ----------
const errorBars = {id:'errorBars', afterDatasetsDraw(chart){
  const ctx=chart.ctx, y=chart.scales.y;
  chart.data.datasets.forEach((ds,di)=>{
    const meta=chart.getDatasetMeta(di);
    meta.data.forEach((bar,i)=>{
      const top=y.getPixelForValue(ds.data[i]+ds.err[i]);
      ctx.save(); ctx.strokeStyle='#000'; ctx.lineWidth=3;
      ctx.beginPath(); ctx.moveTo(bar.x,bar.y); ctx.lineTo(bar.x,top); ctx.stroke();
      ctx.lineWidth=3.5; ctx.beginPath(); ctx.moveTo(bar.x-11,top); ctx.lineTo(bar.x+11,top); ctx.stroke();
      ctx.restore();
    });
  });
}};
const barDecor = {id:'barDecor', afterDraw(chart){
  const ctx=chart.ctx, a=chart.chartArea, xs=chart.scales.x;
  ctx.save();
  drawRich(ctx, 'B.', 5, 45, {size:31, small:20, family:FONT_T, weight:'bold'});
  chart.data.datasets.forEach((ds,i)=>{
    const bx=412, by=23+i*28.5, bw=35, bh=13;
    ctx.fillStyle=ds.backgroundColor; ctx.fillRect(bx,by,bw,bh);
    ctx.strokeStyle='#000'; ctx.lineWidth=3.5; ctx.strokeRect(bx+1.75,by+1.75,bw-3.5,bh-3.5);
    drawRich(ctx, ds.label, 457, by+13.5, {size:20, small:14, family:FONT_A, weight:'normal'});
  });
  chart.data.labels.forEach((lab,i)=>{
    const px=xs.getPixelForValue(i)+8, py=a.bottom+20;
    ctx.save(); ctx.translate(px,py); ctx.rotate(-Math.PI/4);
    drawRich(ctx, lab, 0, 8, {size:23, small:16, family:FONT_A, weight:'normal', align:'right', rise:0.38});
    ctx.restore();
  });
  ctx.restore();
}};

new Chart(document.getElementById('cBar'), {
  type:'bar',
  data:{labels:categories, datasets:[
    {label:seriesNames[0], data:sitesMean, err:sitesSem, backgroundColor:'#fff', borderColor:'#000', borderWidth:3.5, borderSkipped:'start', categoryPercentage:0.98, barPercentage:0.73},
    {label:seriesNames[1], data:eventsMean, err:eventsSem, backgroundColor:'#000', borderColor:'#000', borderWidth:0, categoryPercentage:0.98, barPercentage:0.73}
  ]},
  options:{
    responsive:false, animation:false, events:[],
    layout:{padding:{top:65, bottom:161, left:0, right:58}},
    plugins:{legend:{display:false}, tooltip:{enabled:false}},
    scales:{
      x:{ticks:{display:false}, grid:{display:false, drawTicks:false}, border:{display:true, color:'#000', width:4}, afterFit(s){ s.height=0; }},
      y:{min:0, max:350,
         afterBuildTicks(s){ s.ticks = barTicks.map(v=>({value:v})); },
         afterFit(s){ s.width=101; },
         border:{display:true, color:'#000', width:4},
         grid:{display:true, drawOnChartArea:false, drawTicks:true, tickLength:6, color:'#000', lineWidth:3},
         ticks:{color:'#000', font:{family:FONT_A, size:17, weight:'bold'}, padding:3},
         title:{display:true, text:'Number (per min)', color:'#000', font:{family:FONT_A, size:21, weight:'bold'}, padding:{top:22, bottom:0}}
      }
    }
  },
  plugins:[errorBars, barDecor]
});
</script>
</body></html>
